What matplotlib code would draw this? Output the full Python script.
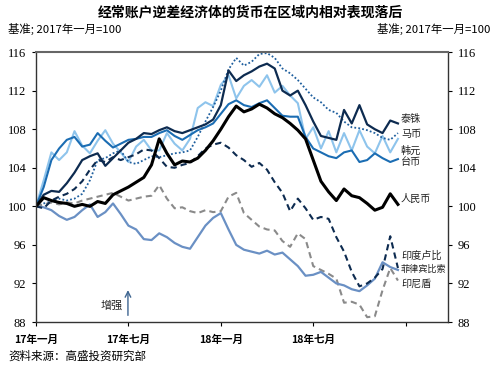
import numpy as np
import matplotlib
matplotlib.use("Agg")
from matplotlib import pyplot as plt

plt.rcParams['font.family'] = ['Noto Sans CJK SC', 'DejaVu Sans']

# months since Jan 2017, half-month steps
months = np.arange(48) * 0.5

cny = [100.0, 100.9, 100.6, 100.4, 100.3, 100.0, 100.2, 100.0, 100.5, 100.3,
       101.2, 101.6, 102.0, 102.5, 103.0, 104.3, 107.0, 105.5, 104.3, 104.7,
       104.6, 105.0, 105.8, 106.8, 108.0, 109.3, 110.4, 109.8, 110.1, 110.6,
       110.2, 109.6, 109.2, 108.6, 107.9, 107.0, 104.8, 102.6, 101.5, 100.6,
       101.8, 101.1, 100.9, 100.3, 99.6, 99.9, 101.3, 100.2]
thb = [100.0, 101.2, 101.6, 101.5, 102.4, 103.5, 104.8, 105.2, 105.5, 104.2,
       105.0, 105.8, 106.6, 107.0, 107.6, 107.5, 107.9, 108.2, 107.8, 107.6,
       107.9, 108.2, 108.5, 109.0, 110.5, 114.1, 113.0, 113.6, 114.0, 114.5,
       114.8, 114.3, 112.0, 111.5, 112.0, 110.5, 108.8, 107.3, 107.1, 106.9,
       110.0, 108.6, 110.5, 108.5, 108.0, 107.6, 108.9, 108.6]
myr = [100.0, 100.3, 100.5, 100.8, 100.6, 100.8, 101.3, 102.7, 104.8, 105.0,
       105.5, 105.8, 104.6, 104.4, 104.8, 105.2, 105.1, 105.3, 105.5, 105.6,
       105.8, 107.2, 108.8, 110.3, 112.0, 114.2, 115.4, 114.6, 115.0, 115.8,
       115.9, 115.4, 114.3, 113.8, 113.1, 112.2, 111.3, 110.8, 110.0, 109.7,
       108.8, 108.2, 108.1, 107.9, 107.6, 107.1, 106.9, 107.6]
krw = [100.0, 102.7, 105.6, 104.8, 105.6, 107.8, 106.3, 105.5, 106.8, 107.9,
       106.5, 105.6, 104.6, 106.2, 106.9, 105.8, 105.8, 107.6, 106.5, 105.8,
       107.0, 110.2, 110.8, 110.4, 112.6, 113.6, 111.2, 112.5, 113.1, 112.4,
       113.6, 111.8, 112.5, 111.5, 110.7, 107.0, 108.2, 106.0, 107.8, 105.6,
       107.6, 105.8, 107.9, 106.2, 105.5, 107.3, 105.6, 107.0]
twd = [100.0, 102.0, 104.8, 106.0, 106.9, 107.2, 106.2, 106.4, 107.6, 106.8,
       106.1, 106.5, 106.9, 107.0, 107.2, 107.2, 107.6, 107.9, 107.3, 106.9,
       107.4, 107.9, 108.2, 108.6, 109.6, 110.6, 111.0, 110.5, 110.3, 110.7,
       111.0, 110.2, 109.4, 109.3, 109.3, 107.2, 106.0, 105.6, 105.2, 105.0,
       105.6, 105.8, 104.6, 104.8, 105.5, 105.0, 104.6, 104.9]
inr = [100.0, 99.8, 100.6, 101.0, 101.3, 101.8, 102.6, 103.8, 104.8, 104.6,
       105.1, 104.8, 105.1, 105.4, 105.9, 105.8, 105.0, 104.1, 104.0, 104.3,
       104.5, 105.2, 106.0, 106.4, 106.6, 106.1, 105.3, 104.8, 104.1, 104.5,
       103.8, 102.5, 101.4, 99.5, 100.8, 99.8, 98.6, 98.9, 98.7, 96.8,
       95.3, 93.2, 91.7, 92.0, 92.6, 93.5, 96.9, 93.6]
php = [100.0, 99.9, 99.6, 99.0, 98.6, 98.9, 99.6, 100.2, 98.9, 99.4,
       100.3, 99.2, 98.0, 97.6, 96.6, 96.5, 97.2, 96.8, 96.2, 95.8,
       95.6, 96.8, 98.0, 98.8, 99.3, 97.6, 96.0, 95.5, 95.3, 95.1,
       95.4, 95.0, 95.2, 94.5, 93.8, 92.8, 92.9, 93.2, 92.6, 92.0,
       91.8, 91.4, 91.2, 91.8, 92.5, 94.2, 93.7, 93.4]
idr = [100.0, 100.2, 100.4, 100.2, 100.4, 100.3, 100.6, 100.8, 101.0, 101.2,
       101.4, 101.0, 100.6, 100.8, 101.0, 101.1, 102.2, 100.8, 99.8, 99.9,
       99.5, 99.3, 99.6, 99.4, 99.5, 101.0, 101.4, 99.3, 98.6, 97.9,
       97.6, 97.5, 96.4, 95.8, 97.2, 96.6, 93.8, 93.4, 93.0, 92.5,
       90.0, 90.1, 89.8, 88.5, 88.6, 91.3, 93.6, 92.3]

xtick_pos = [0, 6, 12, 18, 24]
xtick_labels = ['17年一月', '17年七月', '18年一月', '18年七月', '']
yticks = [88, 92, 96, 100, 104, 108, 112, 116]

fig = plt.figure(figsize=(5, 3.67), dpi=100)
ax = fig.add_axes([0.072, 0.1226, 0.824, 0.7354])

ax.plot(months, krw, color='#8ec4ec', lw=1.5)
ax.plot(months, twd, color='#1b6db3', lw=1.5)
ax.plot(months, myr, color='#1f5f9e', lw=1.3, ls=(0, (1, 1.2)))
ax.plot(months, thb, color='#0d2b50', lw=1.6)
ax.plot(months, idr, color='#8a8a8a', lw=1.5, ls=(0, (3, 2)))
ax.plot(months, php, color='#6a90c4', lw=1.6)
ax.plot(months, inr, color='#0d2b50', lw=1.5, ls=(0, (3, 2)))
ax.plot(months, cny, color='black', lw=2.2)

ax.set_xlim(0, 26.75)
ax.set_ylim(88, 116)
ax.set_xticks(xtick_pos)
ax.set_xticklabels(xtick_labels, fontsize=7.6, fontweight='bold')
ax.set_yticks(yticks)
ax.tick_params(axis='y', direction='out', length=3, right=True, labelright=True,
               pad=4, labelsize=9, labelfontfamily='Liberation Serif')
ax.tick_params(axis='x', direction='out', length=3, pad=6)
for s in ['left', 'right', 'bottom']:
    ax.spines[s].set_color('#333333')
    ax.spines[s].set_linewidth(1.0)
ax.spines['top'].set_color('#666666')
ax.spines['top'].set_linewidth(1.5)

# series labels on the right
labels = [('泰铢', 109.1), ('马币', 107.5), ('韩元', 105.8), ('台币', 104.6),
          ('人民币', 100.8), ('印度卢比', 94.9), ('菲律宾比索', 93.5), ('印尼盾', 92.0)]
for name, yv in labels:
    fs = 6.6 if name == '菲律宾比索' else 7.3
    ax.text(23.7, yv, name, fontsize=fs, va='center', ha='left', color='#222222')

ax.annotate('', xy=(5.97, 91.6), xytext=(5.97, 88.4),
            arrowprops=dict(arrowstyle='->', color='#3e6590', lw=1.0))
ax.text(4.9, 89.65, '增强', fontsize=8, ha='center', va='center', color='#222222')

fig.text(0.5, 0.967, '经常账户逆差经济体的货币在区域内相对表现落后',
         ha='center', va='center', fontsize=10, fontweight='bold')
fig.text(0.016, 0.921, '基准; 2017年一月=100', ha='left', va='center', fontsize=8.2)
fig.text(0.98, 0.921, '基准; 2017年一月=100', ha='right', va='center', fontsize=8.2)
fig.text(0.016, 0.03, '资料来源：高盛投资研究部', ha='left', va='center', fontsize=8.3)

fig.savefig('out.png', dpi=100)
